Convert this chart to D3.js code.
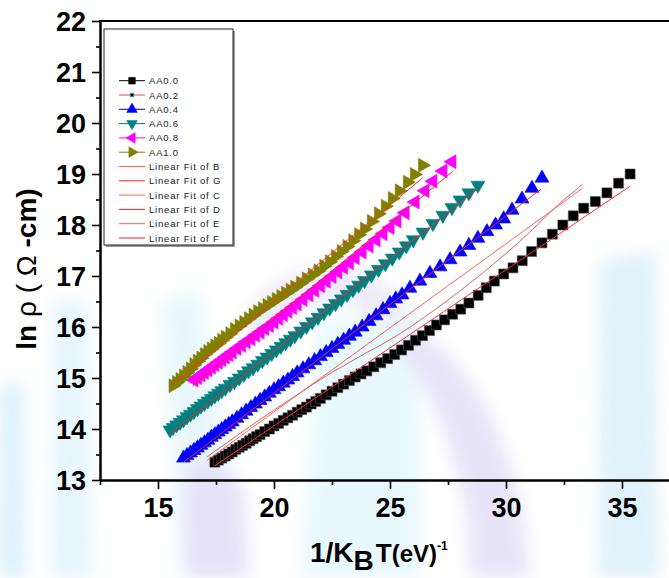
<!DOCTYPE html>
<html><head><meta charset="utf-8">
<script src="https://cdn.jsdelivr.net/npm/d3@7"></script>
<style>body{margin:0;background:#fff}svg{display:block}</style>
</head><body><svg id="c" width="669" height="578"></svg>
<script>
// ---------------- data ----------------
const seriesNames = ["AA0.0","AA0.2","AA0.4","AA0.6","AA0.8","AA1.0"];
const fitNames = ["Linear Fit of B","Linear Fit of G","Linear Fit of C","Linear Fit of D","Linear Fit of E","Linear Fit of F"];
const xTicks = [15,20,25,30,35];
const xMinor = [12.5,17.5,22.5,27.5,32.5,37.5];
const yTicks = [13,14,15,16,17,18,19,20,21,22];
const yMinor = [13.5,14.5,15.5,16.5,17.5,18.5,19.5,20.5,21.5];

const aa00 = [[17.45,13.35],[17.6,13.39],[17.75,13.43],[17.9,13.47],[18.05,13.51],[18.2,13.55],[18.35,13.6],[18.5,13.64],[18.65,13.68],[18.8,13.72],[18.95,13.77],[19.1,13.81],[19.25,13.85],[19.4,13.89],[19.6,13.95],[19.8,14.0],[20.0,14.06],[20.2,14.11],[20.4,14.17],[20.6,14.22],[20.8,14.27],[21.0,14.33],[21.2,14.38],[21.4,14.43],[21.6,14.49],[21.8,14.54],[22.0,14.6],[22.25,14.67],[22.5,14.74],[22.75,14.81],[23.0,14.88],[23.25,14.95],[23.5,15.02],[23.75,15.08],[24.0,15.14],[24.3,15.22],[24.6,15.3],[24.9,15.38],[25.2,15.46],[25.5,15.55],[25.8,15.64],[26.1,15.74],[26.4,15.83],[26.7,15.93],[27.0,16.04],[27.35,16.14],[27.7,16.25],[28.05,16.35],[28.4,16.47],[28.8,16.62],[29.15,16.77],[29.5,16.9],[29.9,17.04],[30.3,17.16],[30.7,17.3],[31.1,17.48],[31.55,17.65],[32.0,17.82],[32.45,18.0],[32.9,18.18],[33.35,18.33],[33.85,18.46],[34.35,18.63],[34.85,18.82],[35.35,19.0]];
const aa02 = [[17.1,13.45],[17.5,13.58],[18.0,13.74],[18.5,13.9],[19.0,14.06],[19.5,14.22],[20.0,14.37],[20.5,14.52],[21.0,14.67],[21.5,14.82],[22.0,14.97],[22.5,15.11],[23.0,15.24],[23.5,15.37],[24.0,15.5],[24.5,15.62],[25.0,15.75],[25.5,15.89],[26.0,16.04],[26.5,16.2],[27.0,16.36],[27.5,16.53],[28.0,16.7],[28.5,16.88],[29.0,17.06],[29.5,17.25],[30.0,17.44],[30.5,17.64],[31.0,17.85],[31.5,18.07],[32.0,18.29],[32.5,18.5],[33.0,18.68],[33.3,18.8]];
const aa04 = [[16.1,13.43],[16.25,13.48],[16.4,13.53],[16.55,13.58],[16.7,13.63],[16.85,13.68],[17.0,13.73],[17.15,13.78],[17.3,13.84],[17.45,13.89],[17.6,13.94],[17.75,13.99],[17.9,14.04],[18.05,14.09],[18.2,14.14],[18.4,14.21],[18.6,14.28],[18.8,14.35],[19.0,14.42],[19.2,14.49],[19.4,14.56],[19.6,14.63],[19.8,14.7],[20.0,14.77],[20.2,14.83],[20.4,14.9],[20.6,14.96],[20.8,15.03],[21.0,15.1],[21.25,15.18],[21.5,15.26],[21.75,15.34],[22.0,15.42],[22.25,15.5],[22.5,15.58],[22.75,15.66],[23.0,15.74],[23.25,15.82],[23.5,15.9],[23.8,16.0],[24.1,16.11],[24.4,16.22],[24.7,16.34],[25.0,16.46],[25.25,16.55],[25.52,16.63],[25.86,16.76],[26.29,16.9],[26.72,17.05],[27.16,17.18],[27.59,17.32],[28.02,17.47],[28.4,17.6],[28.79,17.74],[29.18,17.87],[29.55,18.0],[29.9,18.12],[30.26,18.29],[30.69,18.51],[31.12,18.72],[31.55,18.92]];
const aa06 = [[15.52,13.98],[15.65,14.03],[15.8,14.08],[15.95,14.13],[16.1,14.18],[16.25,14.24],[16.4,14.29],[16.55,14.34],[16.7,14.4],[16.85,14.45],[17.0,14.5],[17.15,14.55],[17.3,14.6],[17.45,14.65],[17.6,14.7],[17.75,14.75],[17.9,14.8],[18.1,14.87],[18.3,14.93],[18.5,15.0],[18.7,15.07],[18.9,15.14],[19.1,15.2],[19.3,15.27],[19.5,15.34],[19.7,15.41],[19.9,15.48],[20.1,15.55],[20.3,15.62],[20.5,15.69],[20.7,15.76],[20.9,15.83],[21.15,15.92],[21.4,16.01],[21.65,16.1],[21.9,16.19],[22.15,16.28],[22.4,16.37],[22.65,16.46],[22.9,16.55],[23.15,16.64],[23.4,16.73],[23.65,16.82],[23.9,16.91],[24.2,17.02],[24.5,17.13],[24.8,17.24],[25.1,17.35],[25.4,17.47],[25.7,17.59],[26.0,17.71],[26.42,17.86],[26.85,18.03],[27.28,18.19],[27.67,18.34],[28.02,18.49],[28.4,18.63],[28.79,18.78]];
const aa08 = [[16.55,14.96],[16.7,15.01],[16.85,15.06],[17.0,15.11],[17.15,15.16],[17.3,15.21],[17.45,15.26],[17.6,15.31],[17.75,15.36],[17.9,15.41],[18.05,15.46],[18.2,15.51],[18.4,15.58],[18.6,15.64],[18.8,15.71],[19.0,15.77],[19.2,15.84],[19.4,15.9],[19.6,15.97],[19.8,16.03],[20.0,16.1],[20.2,16.17],[20.4,16.24],[20.6,16.31],[20.8,16.38],[21.0,16.45],[21.25,16.54],[21.5,16.63],[21.75,16.72],[22.0,16.81],[22.25,16.9],[22.5,16.99],[22.75,17.08],[23.0,17.17],[23.25,17.26],[23.5,17.36],[23.8,17.47],[24.1,17.59],[24.4,17.71],[24.7,17.83],[25.0,17.95],[25.3,18.08],[25.65,18.24],[26.08,18.45],[26.51,18.67],[26.85,18.86],[27.28,19.06],[27.67,19.24]];
const aa10 = [[15.65,14.85],[15.8,14.91],[15.95,14.97],[16.1,15.04],[16.25,15.11],[16.4,15.18],[16.55,15.26],[16.7,15.33],[16.85,15.39],[17.0,15.46],[17.15,15.52],[17.3,15.57],[17.45,15.63],[17.6,15.68],[17.75,15.74],[17.9,15.8],[18.1,15.87],[18.3,15.95],[18.5,16.02],[18.7,16.09],[18.9,16.16],[19.1,16.23],[19.3,16.3],[19.5,16.36],[19.7,16.42],[19.9,16.48],[20.1,16.54],[20.3,16.6],[20.5,16.66],[20.7,16.72],[20.9,16.78],[21.15,16.86],[21.4,16.94],[21.65,17.02],[21.9,17.1],[22.15,17.19],[22.4,17.28],[22.65,17.38],[22.9,17.48],[23.15,17.58],[23.4,17.69],[23.65,17.81],[23.9,17.92],[24.2,18.07],[24.5,18.22],[24.8,18.37],[25.1,18.52],[25.4,18.67],[25.75,18.84],[26.05,18.99],[26.4,19.17]];
// linear fits: end points
const fitB = [[17.45,13.28],[35.35,18.76]];
const fitG = [[17.1,13.38],[33.3,18.72]];
const fitC = [[16.1,13.35],[31.5,18.7]];
const fitD = [[15.5,13.9],[28.8,18.72]];
const fitE = [[16.5,14.85],[27.7,19.05]];
const fitF = [[15.6,14.86],[26.4,18.92]];

// ---------------- drawing ----------------
const svg = d3.select("#c");
const FONT = "'Liberation Sans', Arial, Helvetica, sans-serif";
svg.append("rect").attr("width",669).attr("height",578).attr("fill","#fff");

// faint watermark in the background
const defs = svg.append("defs");
defs.append("filter").attr("id","blur").attr("x","-50%").attr("y","-50%").attr("width","200%").attr("height","200%")
  .append("feGaussianBlur").attr("stdDeviation",8);
const wm = svg.append("g").attr("filter","url(#blur)").attr("opacity",0.5);
const wmShapes = [
  {d:"M0,390 L22,380 L26,578 L0,578Z", c:"#b9e2f6"},
  {d:"M52,300 L88,300 L92,578 L50,578Z", c:"#cfeefa"},
  {d:"M160,300 L200,290 L250,578 L180,578Z", c:"#d4f1fa"},
  {d:"M185,470 C200,450 240,460 245,500 L250,578 L185,578Z", c:"#cfc8f2"},
  {d:"M240,330 C270,250 380,240 420,330 L395,345 C370,290 290,290 270,340Z", c:"#dcd8f2"},
  {d:"M320,320 L420,320 L420,578 L300,578Z", c:"#d2f3fa"},
  {d:"M410,330 C450,340 520,420 530,578 L470,578 C470,470 430,390 400,350Z", c:"#d0caf0"},
  {d:"M600,260 L655,250 L660,578 L598,578Z", c:"#c2e6f6"}
];
wm.selectAll("path").data(wmShapes).join("path").attr("d",d=>d.d).attr("fill",d=>d.c);

const x = d3.scaleLinear().domain([12.5,37.5]).range([100,680]);
const y = d3.scaleLinear().domain([13,22]).range([480,21]);

// fits & series
const tri = d3.symbol().type(d3.symbolTriangle).size(85);
const sq = d3.symbol().type(d3.symbolSquare).size(100);
const plot = svg.append("g");
const line = d3.line().x(d=>x(d[0])).y(d=>y(d[1]));

function drawMarkers(data, path, color, rot, stroke){
  plot.append("g").selectAll("path").data(data).join("path")
    .attr("d", path)
    .attr("transform", d=>`translate(${x(d[0])},${y(d[1])}) rotate(${rot})`)
    .attr("fill", color).attr("stroke", stroke||color).attr("stroke-width",0.6);
}
drawMarkers(aa00, sq(), "#000", 0, "#555");
drawMarkers(aa04, tri(), "#0000ff", 0);
drawMarkers(aa06, tri(), "#008080", 180);
drawMarkers(aa08, tri(), "#ff00ff", -90);
drawMarkers(aa10, tri(), "#808000", 90);
// AA0.2: thin red line with tiny markers
plot.append("path").datum(aa02).attr("d",line).attr("fill","none").attr("stroke","#ff5050").attr("stroke-width",1);
plot.append("path").datum(aa02).attr("d",line).attr("fill","none").attr("stroke","#40e0e0").attr("stroke-width",0.7).attr("stroke-dasharray","3,6");

const fits = [[fitB,"#ff3030"],[fitG,"#ff6060"],[fitC,"#ff2020"],[fitD,"#ff2020"],[fitE,"#ff2020"],[fitF,"#ff3030"]];
fits.forEach(([f,c])=>{
  plot.append("path").datum(f).attr("d",line).attr("fill","none").attr("stroke",c).attr("stroke-width",1);
});

// axes
const ax = svg.append("g").attr("font-family",FONT);
const xAxis = ax.append("g").attr("transform","translate(0,480)")
  .call(d3.axisBottom(x).tickValues(xTicks).tickSize(9).tickSizeOuter(0).tickPadding(9).tickFormat(d3.format("d")));
const xAxisMinor = ax.append("g").attr("transform","translate(0,480)")
  .call(d3.axisBottom(x).tickValues(xMinor).tickSize(5).tickSizeOuter(0).tickFormat(""));
const yAxis = ax.append("g").attr("transform","translate(100,0)")
  .call(d3.axisLeft(y).tickValues(yTicks).tickSize(8).tickSizeOuter(0).tickPadding(6).tickFormat(d3.format("d")));
const yAxisMinor = ax.append("g").attr("transform","translate(100,0)")
  .call(d3.axisLeft(y).tickValues(yMinor).tickSize(4).tickSizeOuter(0).tickFormat(""));
[xAxis,xAxisMinor,yAxis,yAxisMinor].forEach(g=>{
  g.select(".domain").attr("stroke","#000").attr("stroke-width",2);
  g.selectAll(".tick line").attr("stroke","#000").attr("stroke-width",1.6);
  g.selectAll(".tick text").attr("font-family",FONT).attr("font-weight","bold").attr("font-size",27).attr("fill","#000");
});
yAxis.selectAll(".tick text").attr("dy","0.36em");
// top frame line
ax.append("line").attr("x1",99).attr("x2",x(37.5)).attr("y1",y(22)).attr("y2",y(22)).attr("stroke","#000").attr("stroke-width",2);

// axis titles
const xt = svg.append("text").attr("x",310).attr("y",562).attr("font-family",FONT).attr("font-weight","bold").attr("fill","#000");
xt.append("tspan").attr("font-size",28).text("1/K");
xt.append("tspan").attr("font-size",28).attr("dy",8).text("B");
xt.append("tspan").attr("font-size",26).attr("dy",-8).attr("dx",2).text("T");
xt.append("tspan").attr("font-size",24).text("(eV)");
xt.append("tspan").attr("font-size",12).attr("dy",-12).text("-1");

const yt = svg.append("text").attr("transform","translate(36,269) rotate(-90)").attr("text-anchor","middle")
  .attr("font-family",FONT).attr("font-size",28).attr("fill","#000");
yt.append("tspan").attr("font-weight","bold").text("ln ");
yt.append("tspan").attr("font-weight","normal").text("ρ ( Ω ");
yt.append("tspan").attr("font-weight","bold").text("-cm)");

// legend
const lg = svg.append("g").attr("font-family",FONT);
lg.append("rect").attr("x",106).attr("y",31).attr("width",129).attr("height",216).attr("fill","#999");
lg.append("rect").attr("x",104).attr("y",29).attr("width",129).attr("height",216).attr("fill","#fff").attr("stroke","#222").attr("stroke-width",1);
const legendItems = [
  {name:seriesNames[0], c:"#000", m:sq, s:45, r:0},
  {name:seriesNames[1], c:"#ff4040", m:sq, s:12, r:0, mc:"#000", ms:"#20a0a0"},
  {name:seriesNames[2], c:"#0000ff", m:tri, s:50, r:0},
  {name:seriesNames[3], c:"#008080", m:tri, s:50, r:180},
  {name:seriesNames[4], c:"#ff00ff", m:tri, s:50, r:-90},
  {name:seriesNames[5], c:"#808000", m:tri, s:50, r:90},
].concat(fitNames.map((n,i)=>({name:n, c: i%2? "#ff2020":"#ff6060"})));
const li = lg.selectAll("g.li").data(legendItems).join("g").attr("class","li")
  .attr("transform",(d,i)=>`translate(0,${80.7+i*14.3})`);
li.append("line").attr("x1",119).attr("x2",145).attr("stroke",d=>d.c).attr("stroke-width",1);
li.filter(d=>d.m).append("path")
  .attr("d",d=>d.m.size(d.s)())
  .attr("transform",d=>`translate(132,0) rotate(${d.r})`)
  .attr("fill",d=>d.mc||d.c).attr("stroke",d=>d.ms||d.c).attr("stroke-width",d=>d.ms?1:0.5);
li.append("text").attr("x",149).attr("y",3.5).attr("font-size",9.5).attr("letter-spacing",0.8).attr("fill","#222").text(d=>d.name);
</script></body></html>
